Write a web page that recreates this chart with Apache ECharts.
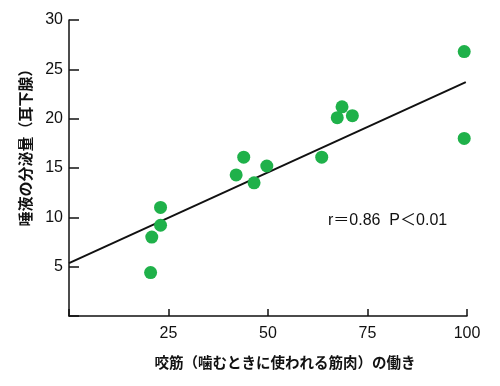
<!DOCTYPE html>
<html>
<head>
<meta charset="utf-8">
<script src="https://cdn.jsdelivr.net/npm/echarts@6/dist/echarts.min.js"></script>
<style>html,body{margin:0;padding:0;background:#fff;}#c{width:500px;height:386px;}</style>
</head>
<body>
<div id="c"></div>
<script>
// data
var masseterX = [20.5, 20.8, 23.0, 23.0, 42.0, 43.9, 46.5, 49.7, 63.5, 67.4, 68.6, 71.2, 99.3, 99.3];
var salivaY   = [4.4,  8.0,  9.2,  11.0, 14.3, 16.1, 13.5, 15.2, 16.1, 20.1, 21.2, 20.3, 26.8, 18.0];
var fitX = [0, 99.7];
var fitY = [5.35, 23.7];
var xTicks = [25, 50, 75, 100];
var yTicks = [5, 10, 15, 20, 25, 30];
var xTitle = '咬筋（噛むときに使われる筋肉）の働き';
var yTitle = '唾液の分泌量（耳下腺）';
var note = 'r＝0.86  P＜0.01';

var pts = masseterX.map(function (x, i) { return [x, salivaY[i]]; });
var fit = fitX.map(function (x, i) { return [x, fitY[i]]; });

var W = 500, H = 386, G = {left: 69, right: 33, top: 20, bottom: 70};
var gh = H - G.top - G.bottom;
var tickLenY = 10;
var lineS = {color: '#111', width: 1.5};
var labelFont = 'Liberation Sans, Arial, sans-serif';

var chart = echarts.init(document.getElementById('c'), null, {renderer: 'canvas'});
chart.setOption({
  animation: false,
  backgroundColor: '#fff',
  grid: [
    {left: G.left, right: G.right, top: G.top, bottom: G.bottom, containLabel: false},
    // thin helper grid just right of the y axis: its left axis ticks point back onto the main axis
    {left: G.left + tickLenY, right: W - G.left - tickLenY - 10, top: G.top, bottom: G.bottom, containLabel: false}
  ],
  xAxis: [{
    type: 'value', min: 0, max: 100, interval: 25, gridIndex: 0,
    axisLine: {show: true, onZero: false, lineStyle: lineS},
    axisTick: {show: false},
    splitLine: {show: false},
    axisLabel: {
      color: '#111', fontSize: 16, fontFamily: labelFont, margin: 10,
      formatter: function (v) { return xTicks.indexOf(v) >= 0 ? String(v) : ''; }
    }
  }, {
    // tick marks pointing into the plot (top axis moved onto the bottom edge)
    type: 'value', min: 0, max: 100, interval: 25, gridIndex: 0, position: 'top', offset: -gh,
    axisLine: {show: false}, axisLabel: {show: false}, splitLine: {show: false},
    axisTick: {show: true, length: 7, lineStyle: lineS}
  }, {
    type: 'value', min: 0, max: 1, gridIndex: 1, show: false
  }],
  yAxis: [{
    type: 'value', min: 0, max: 30, interval: 5, gridIndex: 0,
    axisLine: {show: true, onZero: false, lineStyle: lineS},
    axisTick: {show: false},
    splitLine: {show: false},
    axisLabel: {
      color: '#111', fontSize: 16, fontFamily: labelFont, margin: 6,
      formatter: function (v) { return yTicks.indexOf(v) >= 0 ? String(v) : ''; }
    }
  }, {
    type: 'value', min: 0, max: 30, interval: 5, gridIndex: 1, position: 'left',
    axisLine: {show: false}, axisLabel: {show: false}, splitLine: {show: false},
    axisTick: {show: true, length: tickLenY, lineStyle: lineS}
  }],
  graphic: [{
    type: 'text', left: 328, top: 213,
    style: {text: note, fill: '#111', fontSize: 16, fontFamily: 'Liberation Sans, Noto Sans CJK JP, sans-serif'}
  }, {
    type: 'text', x: 285, y: 362,
    style: {text: xTitle, fill: '#111', fontSize: 14.5, fontWeight: 'bold', fontFamily: 'Noto Sans CJK JP', align: 'center', verticalAlign: 'middle'}
  }, {
    type: 'text', x: 25, y: 144, rotation: Math.PI / 2,
    style: {text: yTitle, fill: '#111', fontSize: 15, fontWeight: 'bold', fontFamily: 'Noto Sans CJK JP', align: 'center', verticalAlign: 'middle'}
  }],
  series: [{
    type: 'line', data: fit, showSymbol: false, symbol: 'none', xAxisIndex: 0, yAxisIndex: 0,
    lineStyle: {color: '#111', width: 2}, z: 1
  }, {
    type: 'scatter', data: pts, symbol: 'circle', symbolSize: 13, xAxisIndex: 0, yAxisIndex: 0,
    itemStyle: {color: '#1fb14a', opacity: 1}, z: 2
  }]
});
</script>
</body>
</html>
